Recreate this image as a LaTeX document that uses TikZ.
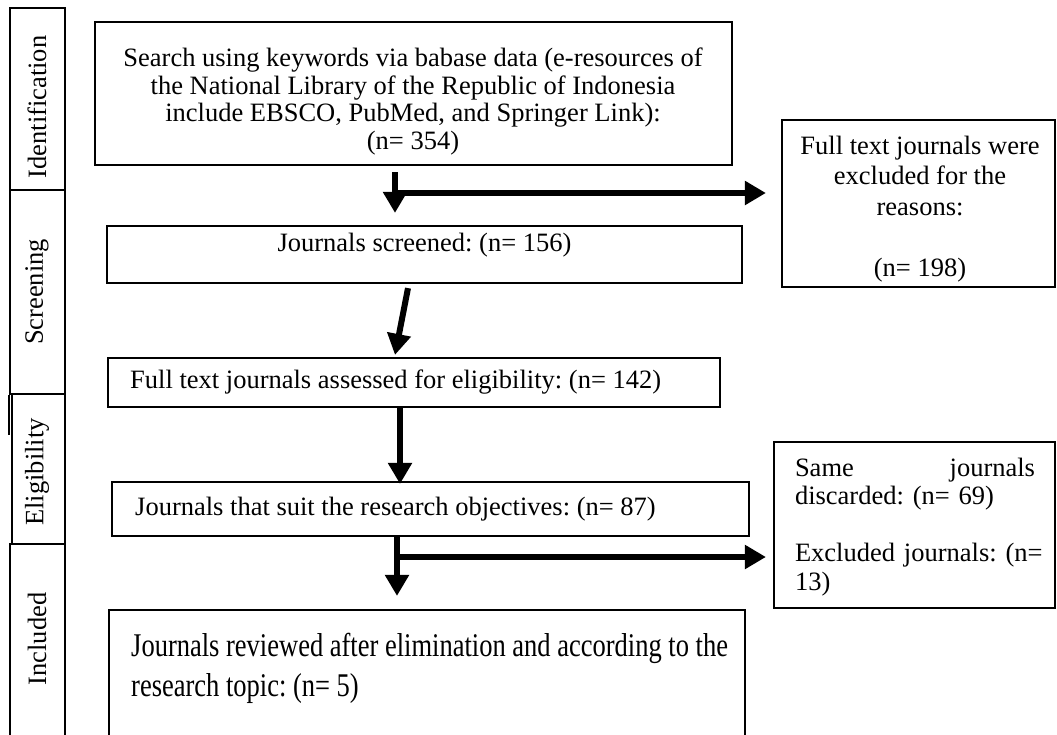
\documentclass[tikz,border=0pt]{standalone}
\usepackage{fontspec}
\usepackage{graphicx}
\setmainfont{Liberation Serif}
\usetikzlibrary{arrows.meta,fit}
\begin{document}
\frenchspacing
\begin{tikzpicture}[x=1pt,y=-1pt,
  box/.style={draw, line width=2.2pt, inner sep=0pt},
  stage/.style={draw, line width=2pt, inner sep=0pt},
  body/.style={inner sep=0pt, font=\fontsize{26.5}{27.7}\selectfont},
  fat/.style={line width=6pt, -{Triangle[width=23pt,length=21pt]}},
]
\fill[white] (0,0) rectangle (1057,734);
\useasboundingbox (0,0) rectangle (1057,734);

% stage column on the left
\node[stage, fit={(10,8) (65,190)}] (s1) {};
\node[stage, fit={(10,190) (65,394)}] (s2) {};
\node[stage, fit={(12,394) (65,544)}] (s3) {};
\node[stage, fit={(10,544) (65,745)}] (s4) {};
\draw[line width=2pt] (s2.south west) -- ++(0,40);
\node[body, rotate=90] (l1) at (37,107) {Identification};
\node[body, rotate=90] (l2) at (37,292) {Screening};
\node[body, rotate=90] (l3) at (37,472) {Eligibility};
\node[body, rotate=90] (l4) at (37,639) {Included};

% flow boxes
\node[box, fit={(95,22) (732,165)}] (b1) {};
\node[box, fit={(107,226) (742,283)}] (b2) {};
\node[box, fit={(108,358) (720,407)}] (b3) {};
\node[box, fit={(112,482) (749,536)}] (b4) {};
\node[box, fit={(109,610) (745,760)}] (b5) {};
\node[box, fit={(782,120) (1055,287)}] (r1) {};
\node[box, fit={(774,442) (1055,608)}] (r2) {};

% box texts
\node[body, align=center] (t1) at (413,101.5) {Search using keywords via babase data (e-resources of\\
  the National Library of the Republic of Indonesia\\
  include EBSCO, PubMed, and Springer Link):\\
  (n= 354)};
\node[body] (t2) at (424.5,245) {Journals screened: (n= 156)};
\node[body, anchor=west] (t3) at (130,382) {Full text journals assessed for eligibility: (n= 142)};
\node[body, anchor=west] (t4) at (135,509) {Journals that suit the research objectives: (n= 87)};
\node[body, anchor=west] (t5) at (131,668) {\scalebox{1}[1.25]{\fontsize{26.5}{32}\selectfont
  \begin{tabular}{@{}l@{}}Journals reviewed after elimination and according to the\\
  research topic: (n= 5)\end{tabular}}};
\node[body, align=center, font=\fontsize{26.5}{30.5}\selectfont] (u1) at (920,209)
  {Full text journals were\\ excluded for the\\ reasons:\\[30.5pt] (n= 198)};
\node[body, align=left, text width=240pt, font=\fontsize{26.5}{28.5}\selectfont] (u2) at (915,527)
  {\makebox[240pt][s]{Same\hfill journals}\\ discarded: (n= 69)\\[28.5pt]
   \makebox[240pt][s]{Excluded journals: (n=}\\ 13)};

% connectors
\coordinate (j1) at (395,193);
\coordinate (j3) at (400,0);
\coordinate (j2) at (397,557);
\draw[fat, shorten <=6pt, shorten >=12pt] (b1.south -| j1) -- (b2.north -| j1);
\draw[fat, shorten >=15pt] ([xshift=-3pt]j1) -- (r1.west |- j1);
\draw[fat] ([xshift=-16.5pt,yshift=-4pt]b2.south) -- ([xshift=-19pt,yshift=2pt]b3.north);
\draw[fat, shorten >=-3pt] (b3.south -| j3) -- (b4.north -| j3);
\draw[fat, shorten >=13pt] (b4.south -| j2) -- (b5.north -| j2);
\draw[fat, shorten >=7pt] ([xshift=-3pt]j2) -- (r2.west |- j2);
\end{tikzpicture}
\end{document}
